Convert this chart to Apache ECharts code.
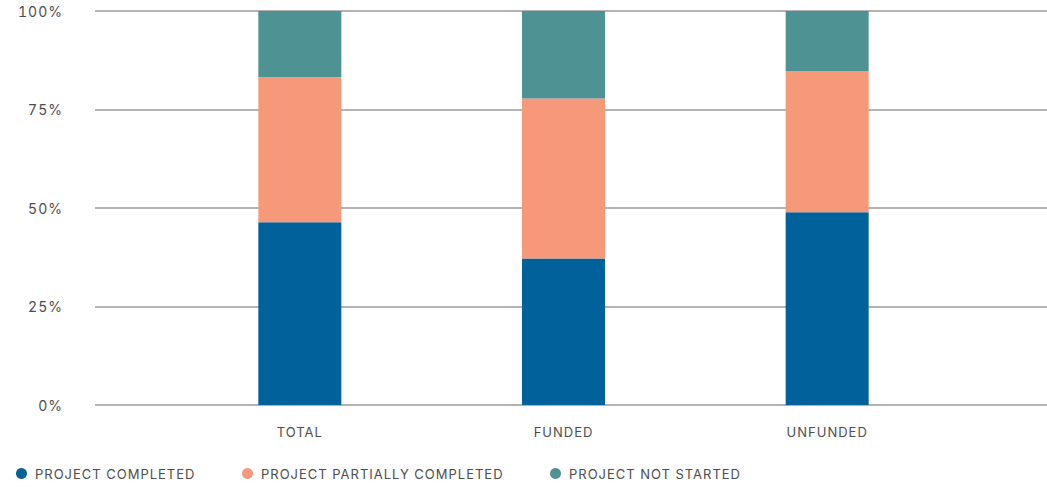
<!DOCTYPE html>
<html>
<head>
<meta charset="utf-8">
<script src="https://cdn.jsdelivr.net/npm/echarts@6/dist/echarts.min.js"></script>
<style>
  html, body { margin: 0; padding: 0; background: #fff; }
  #chart {
    width: 1047px;
    height: 487px;
    letter-spacing: 1px;
    font-variant-numeric: tabular-nums;
  }
</style>
</head>
<body>
<div id="chart"></div>
<script>
// Project status by funding group, share of projects (%)
const categories = ['TOTAL', 'FUNDED', 'UNFUNDED'];
const completed = [46.4, 37.2, 48.9];
const partiallyCompleted = [36.8, 40.6, 35.9];
const notStarted = [16.8, 22.2, 15.2];
const yTicks = [0, 25, 50, 75, 100];

const seriesNames = ['PROJECT COMPLETED', 'PROJECT PARTIALLY COMPLETED', 'PROJECT NOT STARTED'];
const colors = ['#01629b', '#f5997a', '#4f9294'];
const textColor = '#4d4d4d';
const fontFamily = 'Inter, "Noto Sans", sans-serif';
const legendLefts = [11, 237, 545];

const chart = echarts.init(document.getElementById('chart'), null, { renderer: 'svg' });

const barSeries = [completed, partiallyCompleted, notStarted].map((values, i) => ({
  name: seriesNames[i],
  type: 'bar',
  stack: 'status',
  xAxisIndex: 1,
  yAxisIndex: 1,
  barWidth: 83,
  data: values,
  itemStyle: { color: colors[i] },
  emphasis: { disabled: true }
}));

// one legend block per series so the spacing between entries stays even
const legends = seriesNames.map((name, i) => ({
  left: legendLefts[i],
  top: 462,
  icon: 'circle',
  itemWidth: 11,
  itemHeight: 11,
  selectedMode: false,
  data: [name],
  textStyle: { color: textColor, fontSize: 13, fontFamily: fontFamily, padding: [0, 0, 0, 3] }
}));

chart.setOption({
  animation: false,
  textStyle: { fontFamily: fontFamily },
  legend: legends,
  grid: [
    // full-width grid carrying the percentage scale and guide lines
    { left: 95, right: 0, top: 11, bottom: 82, containLabel: false },
    // inner grid holding the category bands and bars
    { left: 168, right: 88, top: 11, bottom: 82, containLabel: false }
  ],
  xAxis: [
    { type: 'value', gridIndex: 0, show: false, min: 0, max: 1 },
    {
      type: 'category',
      gridIndex: 1,
      data: categories,
      axisLine: { show: false },
      axisTick: { show: false },
      axisLabel: { color: textColor, fontSize: 13, margin: 20, fontFamily: fontFamily }
    }
  ],
  yAxis: [
    {
      type: 'value',
      gridIndex: 0,
      min: yTicks[0],
      max: yTicks[yTicks.length - 1],
      interval: yTicks[1] - yTicks[0],
      axisLine: { show: false },
      axisTick: { show: false },
      axisLabel: {
        color: textColor,
        fontSize: 14,
        margin: 32,
        padding: [3, 0, 0, 0],
        fontFamily: fontFamily,
        formatter: v => v + '%'
      },
      splitLine: { lineStyle: { color: '#b3b3b3', width: 2 } }
    },
    {
      type: 'value',
      gridIndex: 1,
      min: yTicks[0],
      max: yTicks[yTicks.length - 1],
      show: false,
      splitLine: { show: false }
    }
  ],
  series: barSeries
});
</script>
</body>
</html>
